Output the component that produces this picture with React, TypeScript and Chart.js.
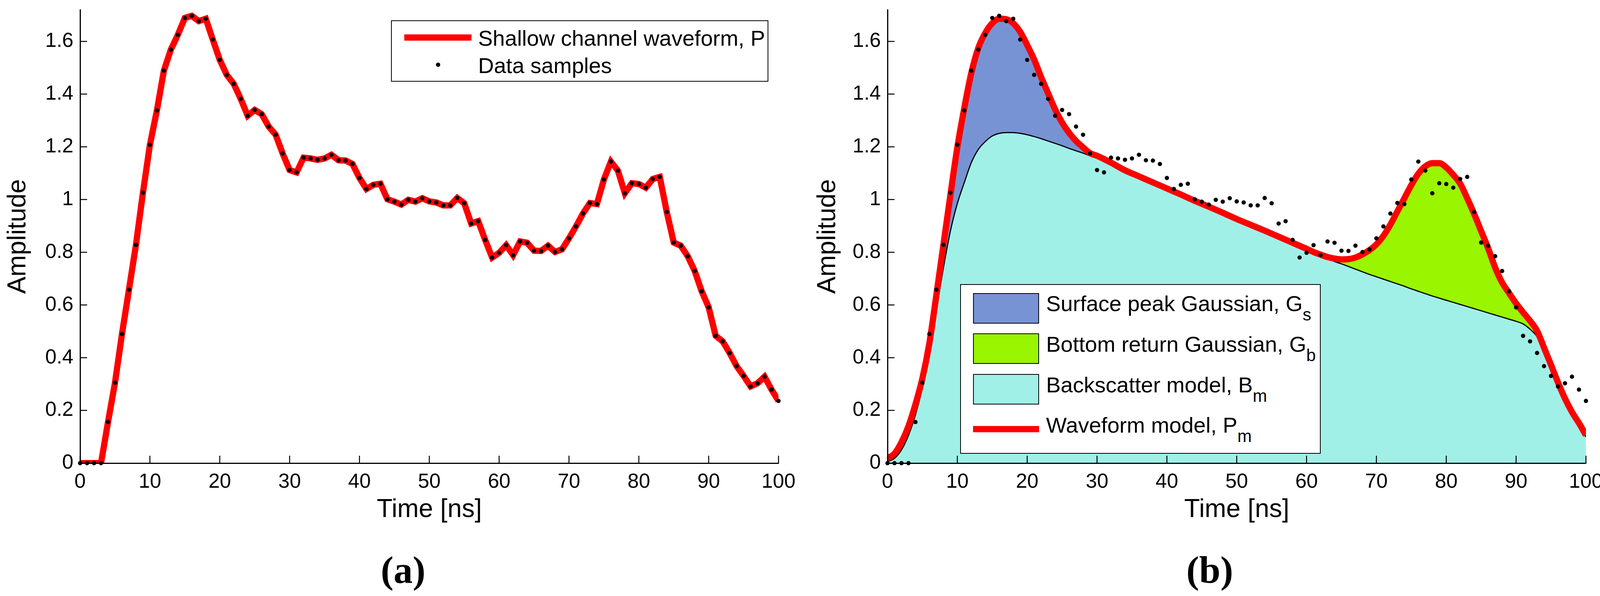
import { useEffect, useRef } from "react";
import { Chart, registerables } from "chart.js";

Chart.register(...registerables);

const FONT = '"Liberation Sans", Arial, Helvetica, sans-serif';
const SERIF = '"Liberation Serif", "Times New Roman", serif';

// sample times of the shallow channel (ns)
const TIME_NS = [
  0, 1, 2, 3, 4, 5, 6, 7, 8, 9, 10, 11, 12, 13, 14, 15, 16, 17, 18, 19, 20,
  21, 22, 23, 24, 25, 26, 27, 28, 29, 30, 31, 32, 33, 34, 35, 36, 37, 38, 39, 40,
  41, 42, 43, 44, 45, 46, 47, 48, 49, 50, 51, 52, 53, 54, 55, 56, 57, 58, 59, 60,
  61, 62, 63, 64, 65, 66, 67, 68, 69, 70, 71, 72, 73, 74, 75, 76, 77, 78, 79, 80,
  81, 82, 83, 84, 85, 86, 87, 88, 89, 90, 91, 92, 93, 94, 95, 96, 97, 98, 99, 100,
];

// shallow channel waveform P (data samples)
const SAMPLES = [
  0, 0, 0, 0, 0.156, 0.305, 0.49, 0.658, 0.828, 1.026, 1.208,
  1.338, 1.489, 1.569, 1.625, 1.689, 1.697, 1.677, 1.686, 1.607, 1.53,
  1.473, 1.439, 1.382, 1.318, 1.34, 1.324, 1.277, 1.246, 1.175, 1.112,
  1.103, 1.159, 1.156, 1.151, 1.156, 1.17, 1.149, 1.148, 1.135, 1.082,
  1.04, 1.056, 1.06, 1.001, 0.992, 0.981, 0.999, 0.992, 1.005, 0.993,
  0.989, 0.978, 0.978, 1.006, 0.986, 0.909, 0.918, 0.847, 0.78, 0.798,
  0.827, 0.789, 0.841, 0.836, 0.806, 0.805, 0.825, 0.801, 0.811, 0.853,
  0.898, 0.947, 0.987, 0.983, 1.076, 1.144, 1.11, 1.024, 1.062, 1.059,
  1.045, 1.078, 1.086, 0.953, 0.837, 0.825, 0.785, 0.729, 0.652, 0.591,
  0.483, 0.462, 0.418, 0.368, 0.331, 0.291, 0.303, 0.328, 0.279, 0.236,
];

// times at which the fitted model curves were read (ns)
const MODEL_TIME_NS = [
  0, 1, 2, 3, 4, 5, 6, 7, 8, 9, 10, 11, 12, 13, 14, 15, 16, 17, 18, 19, 20,
  21, 22, 23, 24, 25, 26, 27, 28, 29, 30,
  32, 34, 36, 38, 40, 42, 44, 46, 48, 50, 52, 54, 56, 58,
  60, 61, 62, 63, 64, 65, 66, 67, 68, 69, 70, 71, 72, 73, 74, 75, 76, 77, 78, 79, 80,
  81, 82, 83, 84, 85, 86, 87, 88, 89, 90, 91, 92, 93, 94, 95, 96, 97, 98, 99, 100,
];

// waveform model Pm
const WAVEFORM_MODEL = [
  0.018, 0.036, 0.079, 0.14, 0.223, 0.322, 0.456, 0.638, 0.827, 1.016, 1.198,
  1.348, 1.48, 1.575, 1.632, 1.669, 1.686, 1.684, 1.669, 1.636, 1.586,
  1.531, 1.464, 1.403, 1.342, 1.292, 1.253, 1.222, 1.198, 1.176, 1.166,
  1.14, 1.111, 1.088, 1.065, 1.042, 1.019, 0.995, 0.973, 0.95, 0.926, 0.904, 0.882, 0.859, 0.836,
  0.813, 0.801, 0.791, 0.782, 0.776, 0.773, 0.774, 0.78, 0.792, 0.808, 0.83,
  0.862, 0.905, 0.955, 1.005, 1.055, 1.098, 1.126, 1.138, 1.138, 1.122,
  1.094, 1.06, 1.005, 0.945, 0.88, 0.815, 0.742, 0.685, 0.645, 0.606,
  0.572, 0.54, 0.502, 0.438, 0.373, 0.306, 0.245, 0.194, 0.152, 0.106,
];

// backscatter model Bm
const BACKSCATTER_MODEL = [
  0.006, 0.018, 0.05, 0.105, 0.183, 0.285, 0.418, 0.58, 0.74, 0.88, 0.985,
  1.065, 1.14, 1.19, 1.22, 1.241, 1.251, 1.254, 1.254, 1.251, 1.246,
  1.239, 1.231, 1.222, 1.213, 1.204, 1.194, 1.185, 1.176, 1.166, 1.157,
  1.134, 1.106, 1.083, 1.06, 1.037, 1.014, 0.99, 0.968, 0.945, 0.921, 0.899, 0.877, 0.854, 0.831,
  0.808, 0.797, 0.786, 0.776, 0.765, 0.756, 0.746, 0.736, 0.726, 0.716, 0.707,
  0.698, 0.689, 0.68, 0.671, 0.661, 0.652, 0.643, 0.634, 0.626, 0.618,
  0.61, 0.602, 0.594, 0.586, 0.578, 0.57, 0.562, 0.554, 0.546, 0.538,
  0.528, 0.508, 0.48, 0.432, 0.368, 0.301, 0.24, 0.189, 0.146, 0.099,
];

// the surface peak (Gs) lies before this time, the bottom return (Gb) after it
const PEAK_SPLIT_NS = 45;

const X_TICKS = [0, 10, 20, 30, 40, 50, 60, 70, 80, 90, 100];
const Y_TICKS = [0, 0.2, 0.4, 0.6, 0.8, 1, 1.2, 1.4, 1.6];

const RED = "#ff0000";
const BLUE = "#7893d4";
const GREEN = "#99f500";
const CYAN = "#a0f0e8";

const CANVAS_W = 2062;
const CANVAS_H = 1350;

const pts = (xs: number[], ys: number[]) => xs.map((x, i) => ({ x, y: ys[i] }));

// MATLAB style ticks pointing into the plot
const inwardTicks = {
  id: "inwardTicks",
  afterDraw(chart: any) {
    const { ctx, chartArea, scales } = chart;
    ctx.save();
    ctx.strokeStyle = "#000";
    ctx.lineWidth = 2.5;
    ctx.beginPath();
    for (const t of scales.x.ticks) {
      const px = scales.x.getPixelForValue(t.value);
      ctx.moveTo(px, chartArea.bottom);
      ctx.lineTo(px, chartArea.bottom - 19);
    }
    for (const t of scales.y.ticks) {
      const py = scales.y.getPixelForValue(t.value);
      ctx.moveTo(chartArea.left, py);
      ctx.lineTo(chartArea.left + 18, py);
    }
    ctx.stroke();
    ctx.restore();
  },
};

function baseOptions(yTitlePad: number): any {
  const tickFont = { family: FONT, size: 52 };
  const titleFont = { family: FONT, size: 66 };
  return {
    responsive: true,
    maintainAspectRatio: false,
    animation: false,
    devicePixelRatio: 1,
    events: [],
    layout: { padding: { top: 25, right: 69, bottom: 0, left: 0 } },
    plugins: { legend: { display: false }, tooltip: { enabled: false } },
    scales: {
      x: {
        type: "linear",
        min: 0,
        max: 100,
        afterBuildTicks: (a: any) => { a.ticks = X_TICKS.map(value => ({ value })); },
        afterFit: (a: any) => { a.height = 165; a.paddingLeft = 0; a.paddingRight = 0; },
        grid: { display: false, drawTicks: false },
        border: { display: true, color: "#000", width: 3, z: 1 },
        ticks: { color: "#000", padding: 17, autoSkip: false, maxRotation: 0, font: tickFont, callback: (v: number) => `${v}` },
        title: { display: true, text: "Time [ns]", color: "#000", font: titleFont, padding: { top: 0, bottom: 6 } },
      },
      y: {
        type: "linear",
        min: 0,
        max: 1.72,
        afterBuildTicks: (a: any) => { a.ticks = Y_TICKS.map(value => ({ value })); },
        afterFit: (a: any) => { a.width = 205; a.paddingTop = 0; a.paddingBottom = 0; },
        grid: { display: false, drawTicks: false },
        border: { display: true, color: "#000", width: 3, z: 1 },
        ticks: { color: "#000", padding: 17, autoSkip: false, font: tickFont, callback: (v: number) => `${v}` },
        title: { display: true, text: "Amplitude", color: "#000", font: titleFont, padding: { top: yTitlePad, bottom: 0 } },
      },
    },
  };
}

function WaveformChart() {
  const canvasRef = useRef<HTMLCanvasElement>(null);

  useEffect(() => {
    if (!canvasRef.current) return;
    const chart = new Chart(canvasRef.current, {
      type: "line",
      data: {
        datasets: [
          {
            label: "Shallow channel waveform, P",
            data: pts(TIME_NS, SAMPLES),
            borderColor: RED,
            borderWidth: 16,
            borderJoinStyle: "miter",
            pointRadius: 0,
            tension: 0,
            fill: false,
            clip: 0,
            order: 1,
          },
          {
            label: "Data samples",
            data: pts(TIME_NS, SAMPLES),
            showLine: false,
            pointRadius: 5.5,
            pointBorderWidth: 0,
            pointBackgroundColor: "#000",
            fill: false,
            clip: false,
            order: 0,
          },
        ],
      } as any,
      options: baseOptions(7),
      plugins: [inwardTicks as any],
    });
    return () => { chart.destroy(); };
  }, []);

  return <canvas ref={canvasRef} />;
}

function DecompositionChart() {
  const canvasRef = useRef<HTMLCanvasElement>(null);

  useEffect(() => {
    if (!canvasRef.current) return;
    const surfaceTop = MODEL_TIME_NS.map((t, i) => ({ x: t, y: t <= PEAK_SPLIT_NS ? WAVEFORM_MODEL[i] : BACKSCATTER_MODEL[i] }));
    const bottomTop = MODEL_TIME_NS.map((t, i) => ({ x: t, y: t <= PEAK_SPLIT_NS ? BACKSCATTER_MODEL[i] : WAVEFORM_MODEL[i] }));
    const lastT = MODEL_TIME_NS[MODEL_TIME_NS.length - 1];
    const lastB = BACKSCATTER_MODEL[BACKSCATTER_MODEL.length - 1];

    const chart = new Chart(canvasRef.current, {
      type: "line",
      data: {
        datasets: [
          {
            label: "Backscatter model, Bm",
            data: pts(MODEL_TIME_NS, BACKSCATTER_MODEL),
            borderColor: "#000",
            borderWidth: 3,
            backgroundColor: CYAN,
            fill: "origin",
            pointRadius: 0,
            cubicInterpolationMode: "monotone",
            order: 2,
          },
          {
            label: "Surface peak Gaussian, Gs",
            data: surfaceTop,
            borderColor: "rgba(0,0,0,0)",
            borderWidth: 0,
            backgroundColor: BLUE,
            fill: 0,
            pointRadius: 0,
            cubicInterpolationMode: "monotone",
            order: 3,
          },
          {
            label: "Bottom return Gaussian, Gb",
            data: bottomTop,
            borderColor: "rgba(0,0,0,0)",
            borderWidth: 0,
            backgroundColor: GREEN,
            fill: 0,
            pointRadius: 0,
            cubicInterpolationMode: "monotone",
            order: 3,
          },
          {
            label: "Bm edge",
            data: [{ x: lastT, y: 0 }, { x: lastT, y: lastB }],
            borderColor: "#000",
            borderWidth: 3,
            pointRadius: 0,
            fill: false,
            order: 2,
          },
          {
            label: "Waveform model, Pm",
            data: pts(MODEL_TIME_NS, WAVEFORM_MODEL),
            borderColor: RED,
            borderWidth: 16,
            pointRadius: 0,
            cubicInterpolationMode: "monotone",
            fill: false,
            clip: 0,
            order: 1,
          },
          {
            label: "Data samples",
            data: pts(TIME_NS, SAMPLES),
            showLine: false,
            pointRadius: 5.5,
            pointBorderWidth: 0,
            pointBackgroundColor: "#000",
            fill: false,
            clip: false,
            order: 0,
          },
        ],
      } as any,
      options: baseOptions(13),
      plugins: [inwardTicks as any],
    });
    return () => { chart.destroy(); };
  }, []);

  return <canvas ref={canvasRef} />;
}

const legendText = (left: number, top: number): React.CSSProperties => ({
  position: "absolute",
  left,
  top,
  fontFamily: FONT,
  fontSize: 56,
  lineHeight: "56px",
  whiteSpace: "nowrap",
  color: "#000",
});

const subStyle: React.CSSProperties = { fontSize: 44, verticalAlign: "-24px", lineHeight: 0 };

const patch = (top: number, color: string): React.CSSProperties => ({
  position: "absolute",
  left: 2491,
  top,
  width: 169,
  height: 78,
  boxSizing: "border-box",
  border: "2.5px solid #000",
  background: color,
});

const panelLabel = (center: number): React.CSSProperties => ({
  position: "absolute",
  left: center - 150,
  width: 300,
  top: 1409,
  textAlign: "center",
  fontFamily: SERIF,
  fontWeight: "bold",
  fontSize: 98,
  lineHeight: "98px",
  color: "#000",
});

export default function App() {
  useEffect(() => {
    document.body.style.margin = "0";
    document.body.style.overflow = "hidden";
  }, []);

  return (
    <div style={{ position: "relative", width: 4129, height: 1525, background: "#fff", overflow: "hidden" }}>
      <div style={{ position: "absolute", left: 0, top: 0, width: CANVAS_W, height: CANVAS_H }}>
        <WaveformChart />
      </div>
      <div style={{ position: "absolute", left: 2067, top: 0, width: CANVAS_W, height: CANVAS_H }}>
        <DecompositionChart />
      </div>

      {/* legend (a) */}
      <div style={{ position: "absolute", left: 1001, top: 52, width: 966, height: 157, boxSizing: "border-box", border: "2.5px solid #000", background: "#fff" }} />
      <div style={{ position: "absolute", left: 1035, top: 88, width: 172, height: 16, background: RED }} />
      <div style={legendText(1224, 70)}>Shallow channel waveform, P</div>
      <div style={{ position: "absolute", left: 1115.5, top: 159.5, width: 11, height: 11, borderRadius: "50%", background: "#000" }} />
      <div style={legendText(1224, 140)}>Data samples</div>

      {/* legend (b) */}
      <div style={{ position: "absolute", left: 2458, top: 727, width: 923, height: 434, boxSizing: "border-box", border: "2.5px solid #000", background: "#fff" }} />
      <div style={patch(750, BLUE)} />
      <div style={legendText(2678, 749)}>Surface peak Gaussian, G<sub style={subStyle}>s</sub></div>
      <div style={patch(853, GREEN)} />
      <div style={legendText(2678, 853)}>Bottom return Gaussian, G<sub style={subStyle}>b</sub></div>
      <div style={patch(957, CYAN)} />
      <div style={legendText(2678, 957)}>Backscatter model, B<sub style={subStyle}>m</sub></div>
      <div style={{ position: "absolute", left: 2491, top: 1090, width: 169, height: 16, background: RED }} />
      <div style={legendText(2678, 1060)}>Waveform model, P<sub style={subStyle}>m</sub></div>

      <div style={panelLabel(1032)}>(a)</div>
      <div style={panelLabel(3097)}>(b)</div>
    </div>
  );
}
